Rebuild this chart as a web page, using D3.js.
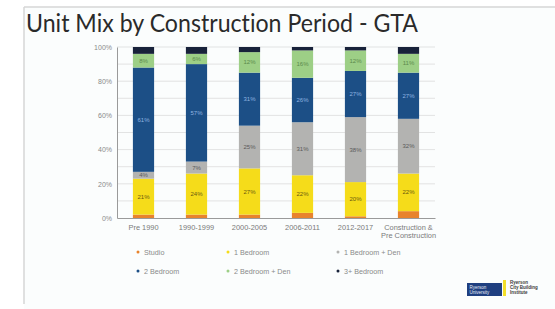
<!DOCTYPE html>
<html>
  <head>
    <style>
      body { margin: 0; background: #fff; }
      svg { display: block; }
      .title { font-variant-ligatures: none; font-feature-settings: "liga" 0; }
    </style>
  </head>
  <body>
    <div id="container"></div>
    <script src="https://d3js.org/d3.v7.min.js"></script>
    <script>

    var periods = ["Pre 1990", "1990-1999", "2000-2005", "2006-2011", "2012-2017", "Construction &|Pre Construction"];
    var unitTypes = ["Studio", "1 Bedroom", "1 Bedroom + Den", "2 Bedroom", "2 Bedroom + Den", "3+ Bedroom"];
    var studio     = [2, 2, 2, 3, 1, 4];
    var oneBed     = [21, 24, 27, 22, 20, 22];
    var oneBedDen  = [4, 7, 25, 31, 38, 32];
    var twoBed     = [61, 57, 31, 26, 27, 27];
    var twoBedDen  = [8, 6, 12, 16, 12, 11];
    var threePlus  = [4, 4, 3, 2, 2, 4];
    var yTicks = [0, 20, 40, 60, 80, 100];

    var colors = ["#e8832c", "#f5dc1a", "#b3b3b1", "#1c4f86", "#9dcf86", "#18223a"];
    var labelColors = [null, "#6b5a10", "#5a5a5a", "#8fb4e0", "#5c8a4c", null];

    var series = [studio, oneBed, oneBedDen, twoBed, twoBedDen, threePlus];
    var data = periods.map(function(p, i) {
      var row = {period: p};
      unitTypes.forEach(function(k, j) { row[k] = series[j][i]; });
      return row;
    });

    var W = 555, H = 309;
    var svg = d3.select("#container").append("svg")
        .attr("width", W).attr("height", H);

    // slide frame
    svg.append("rect").attr("x", 24).attr("y", 7).attr("width", W - 24).attr("height", H - 7)
        .attr("fill", "#fbfdfd");
    svg.append("line").attr("x1", 24).attr("x2", W).attr("y1", 7).attr("y2", 7)
        .attr("stroke", "#d6d6d6").attr("stroke-width", 1.5);
    svg.append("line").attr("x1", 24).attr("x2", 24).attr("y1", 7).attr("y2", 304)
        .attr("stroke", "#d6d6d6").attr("stroke-width", 1.5);

    svg.append("text")
        .attr("class", "title")
        .attr("x", 26).attr("y", 31.5)
        .attr("font-family", "Lato, sans-serif")
        .attr("font-size", 24.5)
        .attr("textLength", 392)
        .attr("lengthAdjust", "spacingAndGlyphs")
        .attr("fill", "#2a2a2a")
        .text("Unit Mix by Construction Period - GTA");

    var margin = {left: 117, right: 120, top: 47, bottom: 91};
    var x = d3.scaleBand().domain(periods).range([margin.left, W - margin.right]).paddingInner(0.6).paddingOuter(0.3);
    var y = d3.scaleLinear().domain([0, 100]).range([H - margin.bottom, margin.top]);

    var g = svg.append("g");

    // gridlines every 10%
    g.append("g").selectAll("line").data(d3.range(10, 101, 10)).enter().append("line")
        .attr("x1", margin.left).attr("x2", W - margin.right)
        .attr("y1", function(d) { return y(d); }).attr("y2", function(d) { return y(d); })
        .attr("stroke", "#dcdcdc").attr("stroke-width", 0.8);

    var stack = d3.stack().keys(unitTypes)(data);

    var layers = g.append("g").selectAll("g").data(stack).enter().append("g")
        .attr("fill", function(d, i) { return colors[i]; });

    layers.selectAll("rect").data(function(d) { return d; }).enter().append("rect")
        .attr("x", function(d) { return x(d.data.period); })
        .attr("width", x.bandwidth())
        .attr("y", function(d) { return y(d[1]); })
        .attr("height", function(d) { return y(d[0]) - y(d[1]); });

    layers.each(function(layer, i) {
      if (!labelColors[i]) return;
      d3.select(this).selectAll("text").data(layer).enter().append("text")
          .attr("x", function(d) { return x(d.data.period) + x.bandwidth() / 2; })
          .attr("y", function(d) { return (y(d[0]) + y(d[1])) / 2; })
          .attr("dy", "0.35em")
          .attr("text-anchor", "middle")
          .attr("font-family", "Liberation Sans Narrow, Liberation Sans, sans-serif")
          .attr("font-size", 6)
          .attr("fill", labelColors[i])
          .text(function(d) { return (d[1] - d[0]) + "%"; });
    });

    // axes
    var yAxis = g.append("g")
        .attr("transform", "translate(" + margin.left + ",0)")
        .call(d3.axisLeft(y).tickValues(yTicks).tickSize(0).tickPadding(5).tickFormat(function(d) { return d + "%"; }));
    yAxis.select(".domain").attr("stroke", "#9a9a9a");
    yAxis.selectAll("text").attr("font-family", "Liberation Sans, sans-serif").attr("font-size", 7).attr("fill", "#8a8a8a");

    var xAxis = g.append("g")
        .attr("transform", "translate(0," + y(0) + ")")
        .call(d3.axisBottom(x).tickSize(0).tickPadding(6).tickFormat(function() { return ""; }));
    xAxis.select(".domain").attr("stroke", "#9a9a9a").attr("stroke-width", 1.2);
    xAxis.selectAll(".tick text").each(function(d) {
      var t = d3.select(this).attr("font-family", "Liberation Sans, sans-serif")
          .attr("font-size", 7.4).attr("fill", "#7a7a7a");
      d.split("|").forEach(function(line, k) {
        t.append("tspan").attr("x", 0).attr("dy", k === 0 ? "0.8em" : "1.15em").text(line);
      });
    });

    // legend
    var legend = svg.append("g").selectAll("g").data(unitTypes).enter().append("g")
        .attr("transform", function(d, i) {
          return "translate(" + [138, 228, 338][i % 3] + "," + (252 + Math.floor(i / 3) * 19) + ")";
        });
    legend.append("circle").attr("r", 1.5).attr("fill", function(d, i) { return colors[i]; });
    legend.append("text")
        .attr("x", 6).attr("dy", "0.35em")
        .attr("font-family", "Liberation Sans, sans-serif")
        .attr("font-size", 7.2).attr("fill", "#8a8a8a")
        .text(function(d) { return d; });

    // logo
    var logo = svg.append("g").attr("transform", "translate(467,283)");
    logo.append("rect").attr("width", 35).attr("height", 13).attr("fill", "#1f3f80");
    logo.append("text").attr("x", 2.5).attr("y", 5.5).attr("font-family", "Liberation Sans, sans-serif")
        .attr("font-size", 4.5).attr("fill", "#e8eef8").text("Ryerson");
    logo.append("text").attr("x", 2.5).attr("y", 10.5).attr("font-family", "Liberation Sans, sans-serif")
        .attr("font-size", 4.5).attr("fill", "#e8eef8").text("University");
    logo.append("rect").attr("x", 36).attr("y", -3).attr("width", 3).attr("height", 16).attr("fill", "#f3df2a");
    ["Ryerson", "City Building", "Institute"].forEach(function(s, i) {
      logo.append("text").attr("x", 43).attr("y", 1 + i * 5).attr("font-family", "Liberation Sans, sans-serif")
          .attr("font-size", 4.5).attr("font-weight", "bold").attr("fill", "#3a3a3a").text(s);
    });

    </script>
  </body>
</html>
